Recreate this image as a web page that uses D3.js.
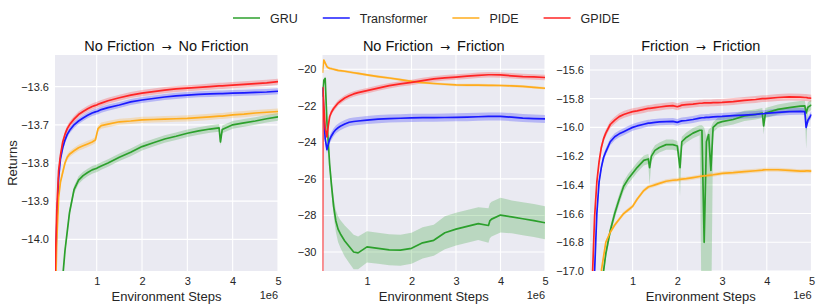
<!DOCTYPE html>
<html>
<head>
<meta charset="utf-8">
<script src="https://cdn.jsdelivr.net/npm/d3@7"></script>
<style>
  body { margin: 0; background: #fff; }
  text { font-family: "Liberation Sans", Arial, sans-serif; }
</style>
</head>
<body>
<svg id="chart" width="830" height="306"></svg>
<script>
// methods in legend / draw order
let methods = ['GRU', 'Transformer', 'PIDE', 'GPIDE'];
let colors = {GRU: '#2ca02c', Transformer: '#1a1aff', PIDE: '#ffac1c', GPIDE: '#ff2424'};

// ---- No Friction -> No Friction (steps in 1e6)
let steps1 = [0.08, 0.12, 0.16, 0.2, 0.25, 0.3, 0.35, 0.4, 0.5, 0.6, 0.7, 0.8, 0.9, 0.97, 1.0, 1.03, 1.1, 1.25,
    1.5, 1.75, 2.0, 2.25, 2.5, 2.75, 3.0, 3.25, 3.5, 3.7, 3.73, 3.77, 4.0, 4.25, 4.5, 4.75, 5.0];
let gru1 = [-14.4, -14.35, -14.3, -14.2, -14.1, -14.03, -13.98, -13.93, -13.87, -13.845, -13.833, -13.825, -13.818,
    -13.815, -13.814, -13.812, -13.808, -13.80, -13.785, -13.772, -13.757, -13.747, -13.737, -13.73, -13.722, -13.716,
    -13.711, -13.708, -13.745, -13.712, -13.70, -13.695, -13.69, -13.684, -13.679];
let transformer1 = [-14.12, -13.96, -13.84, -13.79, -13.76, -13.74, -13.725, -13.715, -13.70, -13.69, -13.682, -13.675,
    -13.669, -13.666, -13.665, -13.664, -13.66, -13.655, -13.648, -13.64, -13.635, -13.631, -13.627, -13.624, -13.622,
    -13.62, -13.619, -13.618, -13.618, -13.618, -13.617, -13.616, -13.615, -13.614, -13.612];
let pide1 = [-14.2, -14.0, -13.89, -13.85, -13.825, -13.80, -13.785, -13.777, -13.768, -13.76, -13.755, -13.75, -13.745,
    -13.74, -13.725, -13.71, -13.702, -13.698, -13.692, -13.69, -13.687, -13.686, -13.685, -13.684, -13.683, -13.681,
    -13.679, -13.677, -13.677, -13.677, -13.674, -13.672, -13.669, -13.667, -13.665];
let gpide1 = [-14.10, -13.92, -13.82, -13.78, -13.745, -13.725, -13.71, -13.70, -13.685, -13.673, -13.665, -13.658,
    -13.652, -13.649, -13.648, -13.646, -13.643, -13.637, -13.629, -13.622, -13.617, -13.613, -13.609, -13.606, -13.604,
    -13.602, -13.600, -13.598, -13.598, -13.598, -13.596, -13.594, -13.592, -13.590, -13.587];

// ---- No Friction -> Friction
let steps2 = [0, 0.01, 0.03, 0.06, 0.1, 0.13, 0.16, 0.2, 0.25, 0.3, 0.35, 0.4, 0.5, 0.6, 0.7, 0.8, 1.0, 1.25, 1.5,
    1.75, 2.0, 2.25, 2.5, 2.75, 3.0, 3.25, 3.5, 3.73, 3.76, 3.8, 4.0, 4.25, 4.5, 4.75, 5.0];
let gru2 = [-21.5, -21.0, -20.6, -20.5, -22.9, -24.0, -25.2, -26.3, -27.5, -28.3, -28.75, -29.0, -29.4, -29.7, -30.0,
    -30.05, -29.72, -29.8, -29.88, -29.9, -29.8, -29.5, -29.36, -28.95, -28.75, -28.6, -28.45, -28.55, -28.3, -28.2,
    -27.98, -28.08, -28.18, -28.28, -28.4];
let gru2Spread = [0.1, 0.1, 0.1, 0.1, 0.2, 0.3, 0.35, 0.4, 0.5, 0.6, 0.7, 0.75, 0.85, 0.9, 0.95, 0.9, 0.85, 0.85, 0.85,
    0.85, 0.85, 0.85, 0.85, 0.9, 0.9, 0.9, 0.9, 0.95, 0.95, 0.95, 0.95, 0.9, 0.9, 0.9, 0.9];
let transformer2 = [-21.0, -21.3, -22.5, -23.8, -24.4, -24.1, -23.85, -23.65, -23.45, -23.3, -23.2, -23.12, -23.0,
    -22.9, -22.86, -22.83, -22.78, -22.73, -22.7, -22.68, -22.66, -22.65, -22.65, -22.64, -22.63, -22.62, -22.6, -22.58,
    -22.58, -22.58, -22.58, -22.62, -22.67, -22.7, -22.72];
let pide2 = [-20.2, -19.9, -19.5, -19.65, -19.85, -19.92, -19.95, -19.97, -20.0, -20.03, -20.06, -20.08, -20.11, -20.15,
    -20.19, -20.23, -20.31, -20.4, -20.48, -20.57, -20.66, -20.73, -20.78, -20.82, -20.86, -20.87, -20.87, -20.88, -20.88,
    -20.88, -20.89, -20.91, -20.94, -20.99, -21.04];
let gpide2 = [-33, -21.0, -22.0, -23.2, -23.7, -23.1, -22.6, -22.35, -22.15, -22.0, -21.85, -21.75, -21.57, -21.45,
    -21.35, -21.28, -21.17, -21.03, -20.9, -20.8, -20.72, -20.62, -20.53, -20.47, -20.43, -20.38, -20.33, -20.3, -20.3,
    -20.3, -20.31, -20.36, -20.4, -20.42, -20.45];

// ---- Friction -> Friction
let steps3 = [0.05, 0.1, 0.15, 0.2, 0.25, 0.3, 0.35, 0.4, 0.5, 0.6, 0.7, 0.8, 0.9, 1.0, 1.1, 1.25, 1.35, 1.38, 1.42,
    1.5, 1.6, 1.75, 1.9, 2.0, 2.06, 2.1, 2.2, 2.35, 2.5, 2.55, 2.6, 2.65, 2.7, 2.75, 2.8, 2.9, 3.0, 3.25, 3.5, 3.75,
    3.9, 3.93, 3.97, 4.25, 4.5, 4.75, 4.85, 4.88, 4.92, 5.0];
let gru3 = [-17.6, -17.5, -17.4, -17.3, -17.2, -17.1, -17.0, -16.88, -16.72, -16.6, -16.5, -16.41, -16.36, -16.32,
    -16.28, -16.23, -16.22, -16.28, -16.2, -16.16, -16.14, -16.12, -16.12, -16.13, -16.28, -16.1, -16.07, -16.04, -16.02,
    -16.02, -16.8, -16.1, -16.05, -16.3, -16.0, -15.97, -15.96, -15.945, -15.92, -15.91, -15.9, -15.99, -15.9, -15.875,
    -15.862, -15.852, -15.85, -15.9, -15.86, -15.843];
let gru3Low = [0.035, 0.035, 0.035, 0.035, 0.035, 0.035, 0.035, 0.035, 0.035, 0.035, 0.035, 0.035, 0.035, 0.035, 0.035,
    0.035, 0.035, 0.12, 0.035, 0.035, 0.035, 0.035, 0.035, 0.035, 0.2, 0.035, 0.035, 0.035, 0.035, 1.5, 0.8, 1.5, 1.5,
    1.2, 0.035, 0.035, 0.035, 0.035, 0.035, 0.035, 0.035, 0.06, 0.035, 0.035, 0.035, 0.035, 0.035, 0.25, 0.035, 0.035];
let gru3High = [0.035, 0.035, 0.035, 0.035, 0.035, 0.035, 0.035, 0.035, 0.035, 0.035, 0.035, 0.035, 0.035, 0.035, 0.035,
    0.035, 0.035, 0.06, 0.035, 0.035, 0.035, 0.035, 0.035, 0.035, 0.1, 0.035, 0.035, 0.035, 0.035, 0.035, 0.8, 0.035,
    0.035, 0.3, 0.035, 0.035, 0.035, 0.035, 0.035, 0.035, 0.035, 0.035, 0.035, 0.035, 0.035, 0.035, 0.035, 0.035, 0.035,
    0.035];
let transformer3 = [-17.6, -17.3, -17.0, -16.6, -16.38, -16.28, -16.21, -16.17, -16.1, -16.065, -16.045, -16.03,
    -16.015, -16.0, -15.99, -15.978, -15.97, -15.97, -15.968, -15.965, -15.962, -15.96, -15.958, -15.965, -15.958,
    -15.955, -15.952, -15.945, -15.935, -15.933, -15.932, -15.93, -15.93, -15.928, -15.927, -15.925, -15.924, -15.918,
    -15.914, -15.91, -15.905, -15.905, -15.903, -15.895, -15.89, -15.888, -15.89, -16.0, -15.95, -15.91];
let pide3 = [-17.6, -17.45, -17.3, -17.18, -17.08, -17.0, -16.9, -16.8, -16.73, -16.68, -16.64, -16.6, -16.575, -16.55,
    -16.5, -16.44, -16.415, -16.412, -16.408, -16.4, -16.39, -16.375, -16.368, -16.365, -16.362, -16.36, -16.357, -16.35,
    -16.342, -16.34, -16.338, -16.336, -16.334, -16.332, -16.33, -16.325, -16.32, -16.315, -16.308, -16.302, -16.298,
    -16.296, -16.295, -16.295, -16.3, -16.305, -16.304, -16.303, -16.303, -16.305];
let gpide3 = [-17.3, -17.05, -16.62, -16.38, -16.24, -16.14, -16.08, -16.04, -15.98, -15.95, -15.925, -15.91, -15.9,
    -15.89, -15.885, -15.875, -15.868, -15.868, -15.866, -15.862, -15.858, -15.852, -15.848, -15.856, -15.85, -15.845,
    -15.842, -15.838, -15.832, -15.832, -15.83, -15.83, -15.83, -15.829, -15.828, -15.827, -15.826, -15.82, -15.812,
    -15.806, -15.8, -15.8, -15.8, -15.792, -15.788, -15.79, -15.792, -15.792, -15.794, -15.797];

let xTicks = [1, 2, 3, 4, 5];
let yTicks1 = [-14.0, -13.9, -13.8, -13.7, -13.6];
let yTicks2 = [-30, -28, -26, -24, -22, -20];
let yTicks3 = [-17.0, -16.8, -16.6, -16.4, -16.2, -16.0, -15.8, -15.6];

let panels = [
    {title: ['No Friction', 'No Friction'], steps: steps1, ticks: yTicks1, fmt: '.1f',
        left: 55, right: 278, xDomain: [0.08, 5], yDomain: [-14.083, -13.517],
        series: [
            {name: 'GRU', values: gru1, lo: 0.01, hi: 0.01},
            {name: 'Transformer', values: transformer1, lo: 0.008, hi: 0.008},
            {name: 'PIDE', values: pide1, lo: 0.008, hi: 0.008},
            {name: 'GPIDE', values: gpide1, lo: 0.008, hi: 0.008}]},
    {title: ['No Friction', 'Friction'], steps: steps2, ticks: yTicks2, fmt: 'd',
        left: 322.5, right: 545, xDomain: [0, 5], yDomain: [-31.04, -19.22],
        series: [
            {name: 'GRU', values: gru2, lo: gru2Spread, hi: gru2Spread},
            {name: 'Transformer', values: transformer2, lo: 0.22, hi: 0.22},
            {name: 'PIDE', values: pide2, lo: 0.07, hi: 0.07},
            {name: 'GPIDE', values: gpide2, lo: 0.15, hi: 0.15}]},
    {title: ['Friction', 'Friction'], steps: steps3, ticks: yTicks3, fmt: '.1f',
        left: 590, right: 811.5, xDomain: [0.047, 5], yDomain: [-17.0, -15.496],
        series: [
            {name: 'GRU', values: gru3, lo: gru3Low, hi: gru3High},
            {name: 'Transformer', values: transformer3, lo: 0.024, hi: 0.024},
            {name: 'PIDE', values: pide3, lo: 0.014, hi: 0.014},
            {name: 'GPIDE', values: gpide3, lo: 0.024, hi: 0.024}]}
];

let plotTop = 55, plotBottom = 271;
let svg = d3.select('#chart');

function spreadAt(s, i) {
    return Array.isArray(s) ? s[i] : s;
}

panels.forEach((p, pi) => {
    let x = d3.scaleLinear().domain(p.xDomain).range([p.left, p.right]);
    let y = d3.scaleLinear().domain(p.yDomain).range([plotBottom, plotTop]);
    let g = svg.append('g');

    g.append('rect')
        .attr('x', p.left).attr('y', plotTop)
        .attr('width', p.right - p.left).attr('height', plotBottom - plotTop)
        .attr('fill', '#eaeaf2');

    // grid
    g.selectAll('.gx').data(xTicks).join('line')
        .attr('x1', d => x(d)).attr('x2', d => x(d))
        .attr('y1', plotTop).attr('y2', plotBottom)
        .attr('stroke', '#fff').attr('stroke-width', 1.1);
    g.selectAll('.gy').data(p.ticks).join('line')
        .attr('x1', p.left).attr('x2', p.right)
        .attr('y1', d => y(d)).attr('y2', d => y(d))
        .attr('stroke', '#fff').attr('stroke-width', 1.1);

    let clipId = 'clip' + pi;
    svg.append('clipPath').attr('id', clipId)
        .append('rect')
        .attr('x', p.left).attr('y', plotTop)
        .attr('width', p.right - p.left).attr('height', plotBottom - plotTop);

    let plot = g.append('g').attr('clip-path', `url(#${clipId})`);

    let rows = p.steps.map((s, i) => ({s: s, i: i}));

    p.series.forEach(se => {
        let area = d3.area()
            .x(d => x(d.s))
            .y0(d => y(se.values[d.i] - spreadAt(se.lo, d.i)))
            .y1(d => y(se.values[d.i] + spreadAt(se.hi, d.i)));
        plot.append('path')
            .attr('d', area(rows))
            .attr('fill', colors[se.name])
            .attr('fill-opacity', 0.25);
    });
    p.series.forEach(se => {
        let line = d3.line()
            .x(d => x(d.s))
            .y(d => y(se.values[d.i]));
        plot.append('path')
            .attr('d', line(rows))
            .attr('fill', 'none')
            .attr('stroke', colors[se.name])
            .attr('stroke-width', 1.7)
            .attr('stroke-linejoin', 'round');
    });

    // axes
    let yAxis = d3.axisLeft(y).tickValues(p.ticks).tickSize(0).tickPadding(6)
        .tickFormat(d3.format(p.fmt));
    g.append('g')
        .attr('transform', `translate(${p.left},0)`)
        .call(yAxis)
        .call(a => a.select('.domain').remove())
        .call(a => a.selectAll('text').attr('font-size', 11).attr('fill', '#262626')
            .attr('font-family', '"Liberation Sans", Arial, sans-serif'));

    let xAxis = d3.axisBottom(x).tickValues(xTicks).tickSize(0).tickPadding(6)
        .tickFormat(d3.format('d'));
    g.append('g')
        .attr('transform', `translate(0,${plotBottom})`)
        .call(xAxis)
        .call(a => a.select('.domain').remove())
        .call(a => a.selectAll('text').attr('font-size', 11).attr('fill', '#262626')
            .attr('font-family', '"Liberation Sans", Arial, sans-serif'));

    let title = g.append('text')
        .attr('x', (p.left + p.right) / 2).attr('y', 51)
        .attr('text-anchor', 'middle')
        .attr('font-size', 14.5).attr('fill', '#111');
    title.append('tspan').text(p.title[0]);
    title.append('tspan').attr('dx', 7)
        .attr('font-family', '"DejaVu Sans", sans-serif').attr('font-size', 12).text('\u2192');
    title.append('tspan').attr('dx', 7).text(p.title[1]);

    g.append('text')
        .attr('x', (p.left + p.right) / 2).attr('y', 301)
        .attr('text-anchor', 'middle')
        .attr('font-size', 13).attr('fill', '#262626')
        .text('Environment Steps');

    g.append('text')
        .attr('x', p.right).attr('y', 299)
        .attr('text-anchor', 'end')
        .attr('font-size', 11).attr('fill', '#262626')
        .text('1e6');
});

svg.append('text')
    .attr('transform', 'translate(17,163) rotate(-90)')
    .attr('text-anchor', 'middle')
    .attr('font-size', 13).attr('fill', '#262626')
    .text('Returns');

// legend
let lx = 233;
let legend = svg.append('g');
methods.forEach(m => {
    legend.append('line')
        .attr('x1', lx).attr('x2', lx + 27)
        .attr('y1', 18).attr('y2', 18)
        .attr('stroke', colors[m]).attr('stroke-width', 1.5);
    let t = legend.append('text')
        .attr('x', lx + 37).attr('y', 22.5)
        .attr('font-size', 12.5).attr('fill', '#262626')
        .text(m);
    lx += 37 + t.node().getComputedTextLength() + 25;
});
</script>
</body>
</html>
